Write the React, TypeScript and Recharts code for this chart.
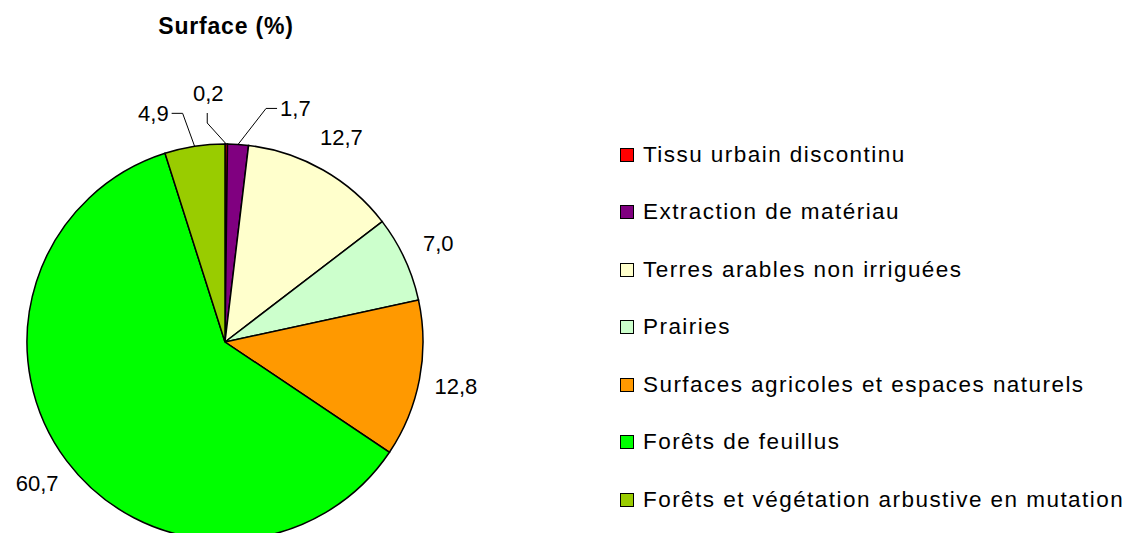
import React from "react";
import { PieChart, Pie, Cell } from "recharts";

const categories = [
  "Tissu urbain discontinu",
  "Extraction de matériau",
  "Terres arables non irriguées",
  "Prairies",
  "Surfaces agricoles et espaces naturels",
  "Forêts de feuillus",
  "Forêts et végétation arbustive en mutation",
];
const values = [0.2, 1.7, 12.7, 7.0, 12.8, 60.7, 4.9];
const valueLabels = ["0,2", "1,7", "12,7", "7,0", "12,8", "60,7", "4,9"];
const colors = ["#FF0000", "#800080", "#FFFFCC", "#CCFFCC", "#FF9900", "#00FF00", "#99CC00"];

const data = categories.map((name, i) => ({ name, value: values[i], label: valueLabels[i] }));

const FONT = '"Liberation Sans", Arial, sans-serif';
const RAD = Math.PI / 180;

// leader-line styling for thin slices: [dx1, dy1, dx2, dy2, textDx, textDy, anchor]
const leaders: Record<number, [number, number, number, number, number, number, string]> = {
  0: [-19, -21, 0, -10, 1, -20, "middle"],
  1: [28, -36, 11, 0, 3, 0, "start"],
  6: [-12, -33, -11, 0, -3, 0, "end"],
};

const renderLabel = (props: any) => {
  const { cx, cy, midAngle, outerRadius, index } = props;
  const sin = Math.sin(-midAngle * RAD);
  const cos = Math.cos(-midAngle * RAD);
  const text = valueLabels[index];
  const ld = leaders[index];
  if (ld) {
    const x0 = cx + outerRadius * cos;
    const y0 = cy + outerRadius * sin;
    const x1 = x0 + ld[0];
    const y1 = y0 + ld[1];
    const x2 = x1 + ld[2];
    const y2 = y1 + ld[3];
    return (
      <g key={`l-${index}`}>
        <polyline points={`${x0},${y0} ${x1},${y1} ${x2},${y2}`} fill="none" stroke="#000" strokeWidth={1} />
        <text
          x={x2 + ld[4]}
          y={y2 + ld[5]}
          textAnchor={ld[6] as any}
          dominantBaseline="central"
          fontFamily={FONT}
          fontSize={22}
          fill="#000"
        >
          {text}
        </text>
      </g>
    );
  }
  const r = outerRadius + 37;
  return (
    <text
      key={`l-${index}`}
      x={cx + r * cos}
      y={cy + r * sin}
      textAnchor="middle"
      dominantBaseline="central"
      fontFamily={FONT}
      fontSize={22}
      fill="#000"
    >
      {text}
    </text>
  );
};

export default function App() {
  return (
    <div style={{ position: "absolute", left: 0, top: 0, width: 1126, height: 533, background: "#fff" }}>
      <div
        style={{
          position: "absolute",
          left: 0,
          width: 452,
          top: 13,
          textAlign: "center",
          fontFamily: FONT,
          fontWeight: "bold",
          fontSize: 23,
          letterSpacing: 0.8,
          color: "#000",
        }}
      >
        Surface (%)
      </div>
      <PieChart width={1126} height={533} margin={{ top: 0, right: 0, bottom: 0, left: 0 }}>
        <Pie
          data={data}
          dataKey="value"
          nameKey="name"
          cx={225}
          cy={342}
          outerRadius={198}
          startAngle={90}
          endAngle={-270}
          stroke="#000"
          strokeWidth={1.5}
          label={renderLabel}
          labelLine={false}
          isAnimationActive={false}
        >
          {data.map((d, i) => (
            <Cell key={d.name} fill={colors[i]} />
          ))}
        </Pie>
      </PieChart>
      <div style={{ position: "absolute", left: 620, top: 126, width: 506, fontFamily: FONT }}>
        {data.map((d, i) => (
          <div key={d.name} style={{ display: "flex", alignItems: "center", height: 57.5 }}>
            <div
              style={{
                width: 12,
                height: 12,
                background: colors[i],
                border: "1.5px solid #000",
                marginRight: 9,
                flexShrink: 0,
              }}
            />
            <span style={{ fontSize: 22.5, letterSpacing: 1.45, color: "#000", whiteSpace: "nowrap" }}>{d.name}</span>
          </div>
        ))}
      </div>
    </div>
  );
}
